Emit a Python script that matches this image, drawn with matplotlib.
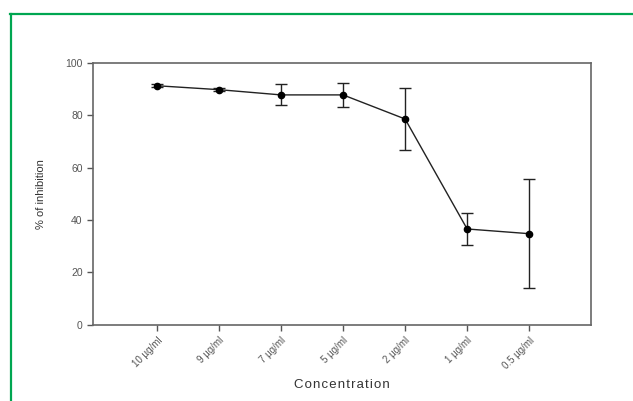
import matplotlib
matplotlib.use("Agg")
import matplotlib.pyplot as plt
from matplotlib.lines import Line2D

plt.rcParams['font.family'] = ['Liberation Sans', 'DejaVu Sans']

categories = ["10 µg/ml", "9 µg/ml", "7 µg/ml", "5 µg/ml", "2 µg/ml", "1 µg/ml", "0.5 µg/ml"]
inhibition = [91.3, 89.8, 87.8, 87.8, 78.6, 36.6, 34.8]
errors = [0.5, 0.5, 4.0, 4.6, 12.0, 6.0, 20.9]

fig = plt.figure(figsize=(6.33, 4.01), dpi=100)
ax = fig.add_axes([0.147, 0.19, 0.787, 0.653])
x = list(range(len(categories)))
ax.errorbar(x, inhibition, yerr=errors, color="#222222", lw=1.0, marker="o", ms=4.5,
            mfc="black", mec="black", capsize=4, elinewidth=1.0, capthick=1.0)
ax.set_xlim(-1.03, 7.0)
ax.set_ylim(0, 100)
ax.set_yticks([0, 20, 40, 60, 80, 100])
ax.set_xticks(x)
ax.set_xticklabels(categories, rotation=45, ha="right", rotation_mode="anchor",
                   fontsize=7, color="#555555")
ax.tick_params(axis="y", labelsize=7.5, colors="#555555", direction="out", length=4, width=1)
ax.tick_params(axis="x", direction="out", length=4, width=1, colors="#555555")
for s in ax.spines.values():
    s.set_color("#666666")
    s.set_linewidth(1.2)
ax.set_ylabel("% of inhibition", fontsize=8, color="#333333", labelpad=14)
ax.set_xlabel("C o n c e n t r a t i o n".replace(" ", "\u200a"), fontsize=9.5,
              color="#333333", labelpad=6)

green = "#00a651"
fig.add_artist(Line2D([0.016, 1.0], [0.965, 0.965], transform=fig.transFigure, color=green, lw=1.6))
fig.add_artist(Line2D([0.017, 0.017], [0.0, 0.965], transform=fig.transFigure, color=green, lw=1.6))

fig.savefig("out.png", dpi=100)
